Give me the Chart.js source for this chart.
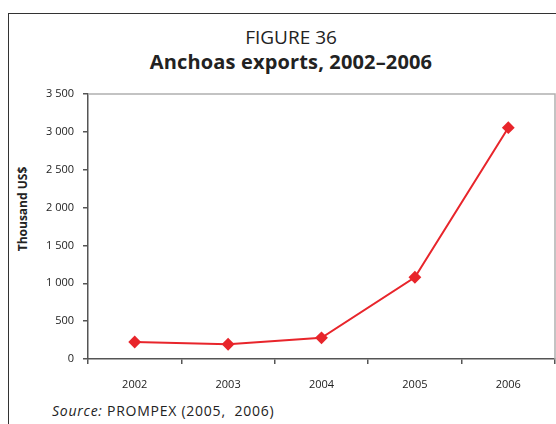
<!DOCTYPE html>
<html><head><meta charset="utf-8">
<script src="https://cdn.jsdelivr.net/npm/chart.js@4/dist/chart.umd.min.js"></script>
<style>
html,body{margin:0;padding:0;background:#fff;}
#wrap{position:relative;width:556px;height:424px;overflow:hidden;font-family:"Open Sans",sans-serif;color:#222;}
#frame{position:absolute;left:8px;top:13px;width:600px;height:500px;border-left:1px solid #333;border-top:1px solid #333;}
.t{position:absolute;line-height:1;white-space:nowrap;}
#t1{left:291px;top:28px;transform:translateX(-50%);font-size:19px;}
#t2{left:291px;top:51.5px;transform:translateX(-50%);font-size:20px;font-weight:bold;letter-spacing:0.15px;}
#ytitle{left:23px;top:209px;transform:translate(-50%,-50%) rotate(-90deg);font-size:12px;font-weight:bold;}
#src{left:52px;top:403.5px;font-size:14px;letter-spacing:0.75px;}
canvas{position:absolute;left:0;top:0;}
</style></head>
<body><div id="wrap">
<div id="frame"></div>
<div class="t" id="t1">FIGURE 36</div>
<div class="t" id="t2">Anchoas exports, 2002–2006</div>
<div class="t" id="ytitle">Thousand US$</div>
<div class="t" id="src"><i>Source:</i> PROMPEX (2005,&nbsp; 2006)</div>
<canvas id="c" width="556" height="424"></canvas>
</div>
<script>
const years = ["2002","2003","2004","2005","2006"];
const exportsValues = [225, 195, 280, 1080, 3055];
const yTicks = [0,500,1000,1500,2000,2500,3000,3500];

const boxPlugin = {
  id:'box',
  afterDraw(chart){
    const {ctx, chartArea:a} = chart;
    ctx.save();
    ctx.strokeStyle='#b0b0b0';ctx.lineWidth=1.5;
    ctx.beginPath();
    ctx.moveTo(a.left,a.top);ctx.lineTo(a.right,a.top);ctx.lineTo(a.right,a.bottom);
    ctx.stroke();
    ctx.restore();
  }
};

new Chart(document.getElementById('c'),{
  type:'line',
  data:{labels:years,datasets:[{data:exportsValues,borderColor:'#e8252b',backgroundColor:'#e8252b',borderWidth:2,pointStyle:'rectRot',pointRadius:5,pointHoverRadius:5,tension:0,fill:false}]},
  options:{
    responsive:false,animation:false,
    layout:{autoPadding:false,padding:{left:8,right:1,top:94,bottom:25}},
    plugins:{legend:{display:false},tooltip:{enabled:false},title:{display:false}},
    scales:{
      x:{type:'category',offset:true,
        grid:{offset:true,drawOnChartArea:false,drawTicks:true,tickLength:5,color:'#555',lineWidth:1.5},
        border:{color:'#555',width:1.5},
        ticks:{color:'#222',font:{family:'Open Sans',size:11},padding:14,maxRotation:0},
        afterFit(s){s.height=40;s.paddingLeft=0;s.paddingRight=0;}
      },
      y:{min:0,max:3500,
        afterBuildTicks(s){s.ticks=yTicks.map(v=>({value:v}));},
        grid:{drawOnChartArea:false,drawTicks:true,tickLength:5,color:'#555',lineWidth:1.5},
        border:{color:'#555',width:1.5},
        ticks:{color:'#222',font:{family:'Open Sans',size:11},padding:9,
          callback:v=>String(v).replace(/\B(?=(\d{3})+(?!\d))/g,' ')},
        afterFit(s){s.width=80;}
      }
    }
  },
  plugins:[boxPlugin]
});
</script>
</body></html>
